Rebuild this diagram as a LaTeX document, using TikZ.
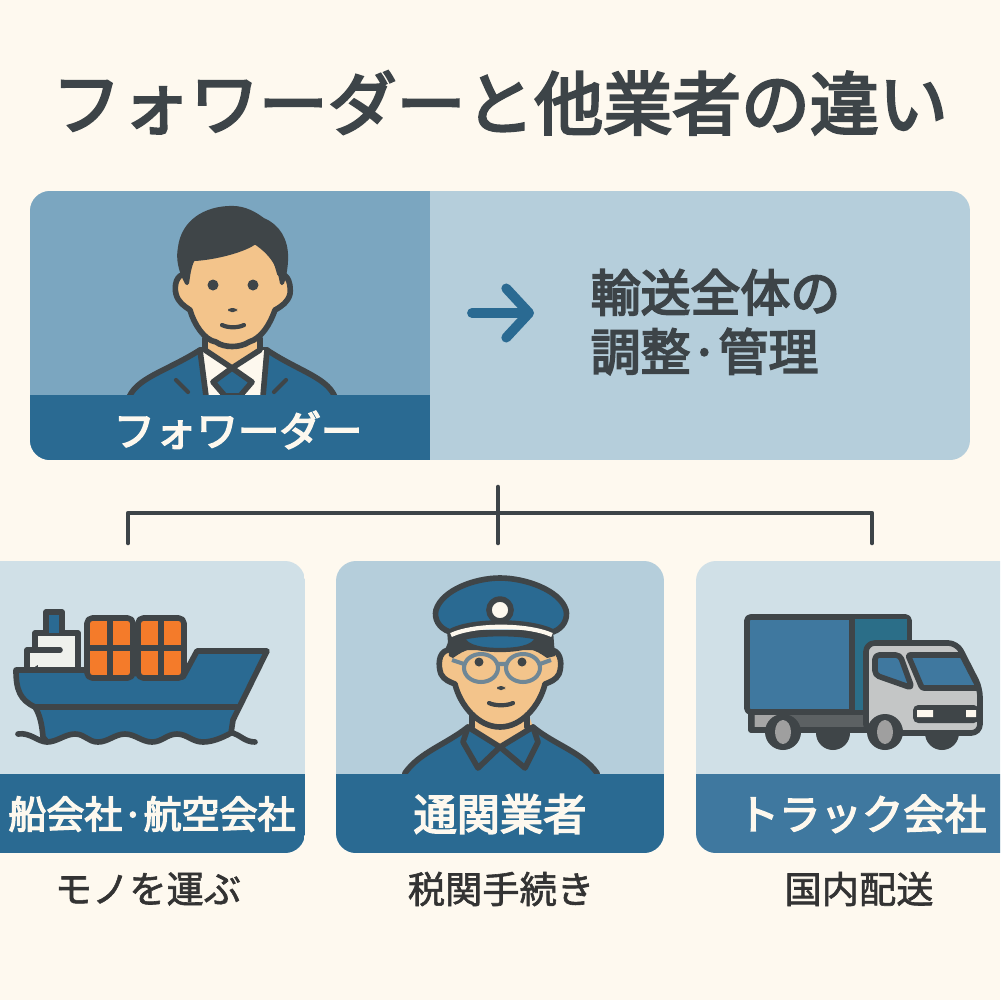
\documentclass[tikz,border=0pt]{standalone}
\usepackage{fontspec}
\usetikzlibrary{arrows.meta}
\newfontfamily\jpfont[FakeBold=3.6]{Noto Sans CJK JP}
\newfontfamily\jplight[FakeBold=1.6]{Noto Sans CJK JP}
\definecolor{paper}{HTML}{FEF9EF}
\definecolor{ink}{HTML}{3D4448}
\definecolor{dark}{HTML}{3F4548}
\definecolor{navy}{HTML}{2A6A92}
\definecolor{steel}{HTML}{3F789F}
\definecolor{midblue}{HTML}{7BA6C0}
\definecolor{pale}{HTML}{B5CEDB}
\definecolor{paler}{HTML}{D0E0E7}
\definecolor{skin}{HTML}{F3C48B}
\definecolor{cream}{HTML}{FDF8EE}
\definecolor{crate}{HTML}{F47B2A}
\definecolor{cabin}{HTML}{C4C6C6}
\definecolor{specs}{HTML}{6F8796}
\tikzset{
  outline/.style={draw=dark,line width=1.6pt,line join=round,line cap=round},
  thin outline/.style={draw=dark,line width=1.2pt,line join=round,line cap=round},
  titletext/.style={font=\jpfont\fontsize{19.6pt}{22pt}\selectfont,text=ink,inner sep=0pt},
  bodytext/.style={font=\jpfont\fontsize{14.2pt}{16.8pt}\selectfont,text=ink,inner sep=0pt,align=left},
  bandtext/.style={font=\jpfont\fontsize{11.8pt}{14pt}\selectfont,text=cream,inner sep=0pt},
  subtext/.style={font=\jplight\fontsize{10.6pt}{13pt}\selectfont,text=black!80,inner sep=0pt},
  wire/.style={draw=ink,line width=1.3pt,line cap=round,line join=round},
  pointer/.style={draw=navy,line width=2.8pt,line cap=round,-{Straight Barb[length=6.5pt,width=14pt,round]}},
  wheel/.style={fill=dark,draw=none},
  hub/.style={fill=gray!75,draw=none},
}
\begin{document}
\begin{tikzpicture}[x=0.1mm,y=-0.1mm]
  \clip (0,0) rectangle (1000,1000);
  \fill[paper] (0,0) rectangle (1000,1000);
  \node[titletext] (title) at (500,103) {フォワーダーと他業者の違い};

  \begin{scope}
    \clip[rounded corners=5.7pt] (30,191) rectangle (970,460);
    \fill[pale] (30,191) rectangle (970,460);
    \fill[midblue] (30,191) rectangle (430,460);
    \draw[outline,fill=navy] (128,400) .. controls (135,378) and (165,372) .. (200,350) -- (267,350) .. controls (300,372) and (330,378) .. (336,400) -- cycle;
    \fill[cream] (198,350) -- (267,350) -- (263,396) -- (206,396) -- cycle;
    \fill[skin] (205,330) -- (260,330) -- (260,350) -- (232,368) -- (205,350) -- cycle;
    \draw[outline] (205,338) -- (205,350) -- (232,368) -- (260,350) -- (260,338);
    \draw[outline] (200,350) -- (206,396) (267,350) -- (263,396);
    \draw[thin outline] (176,380) -- (188,392) (286,380) -- (274,392);
    \draw[outline,fill=navy] (232,368) -- (213,382) -- (225,396) -- (240,396) -- (252,382) -- cycle;
    \draw[outline,fill=skin] (186,274) .. controls (176,274) and (174,286) .. (176,294) .. controls (178,302) and (184,306) .. (190,310) .. controls (194,324) and (204,340) .. (216,342) .. controls (224,348) and (240,348) .. (249,342) .. controls (262,338) and (270,324) .. (275,310) .. controls (282,306) and (288,302) .. (290,294) .. controls (291,286) and (289,274) .. (280,274) -- (270,240) -- (195,240) -- cycle;
    \draw[thin outline,fill=dark] (187,283) .. controls (180,270) and (178,258) .. (180,248) .. controls (183,222) and (205,208) .. (232,208) .. controls (245,208) and (255,214) .. (263,220) .. controls (278,226) and (286,240) .. (286,257) .. controls (286,268) and (284,276) .. (282,283) .. controls (280,270) and (276,256) .. (255,242) .. controls (245,250) and (215,258) .. (193,259) .. controls (189,266) and (188,276) .. (187,283) -- cycle;
    \fill[dark] (213,285) circle (5.5) (253,285) circle (5.5);
    \fill[dark,rounded corners=1pt] (228,308) rectangle (237,312);
    \draw[thin outline] (222,325) .. controls (228,328) and (238,328) .. (244,325);
    \fill[navy] (30,395) rectangle (430,460);
  \end{scope}
  \node[bandtext] (fwdname) at (238,430) {フォワーダー};
  \coordinate (tail) at (472,313);
  \coordinate (head) at (534,313);
  \draw[pointer] (tail) -- (head);
  \node[bodytext,anchor=west] (role) at (590,322) {輸送全体の\\調整·管理};

  \coordinate (stem) at (498,487);
  \coordinate (joint) at (498,513);
  \coordinate (mid) at (498,543);
  \coordinate (lft) at (128,513);
  \coordinate (lftend) at (128,543);
  \coordinate (rgt) at (872,513);
  \coordinate (rgtend) at (872,543);
  \draw[wire] (stem) -- (mid);
  \draw[wire] (lftend) -- (lft) -- (rgt) -- (rgtend);

  \begin{scope}
    \clip[rounded corners=5.7pt] (-20,561) rectangle (305,853);
    \fill[paler] (-20,561) rectangle (305,853);
    \fill[navy] (-20,774) rectangle (305,853);
  \end{scope}
  \draw[outline,fill=cream!70!paler] (35,672) -- (35,633) -- (78,633) -- (78,672);
  \draw[outline,fill=cream!70!paler] (27,672) -- (27,650) -- (60,650);
  \draw[outline,fill=navy] (46,633) -- (46,612) -- (62,612) -- (62,633);
  \draw[outline,fill=navy] (16,670) -- (88,670) -- (183,677) -- (197,651) -- (267,651) -- (233,720) -- (231,733) .. controls (222,738) and (212,742) .. (203,742) .. controls (192,742) and (187,734) .. (177,734) .. controls (167,734) and (162,742) .. (152,742) .. controls (142,742) and (135,734) .. (125,734) .. controls (115,734) and (108,742) .. (98,742) .. controls (88,742) and (85,734) .. (75,734) .. controls (65,734) and (57,742) .. (47,742) -- (43,737) .. controls (42,725) and (40,715) .. (35,707) .. controls (20,700) and (16,690) .. (16,670) -- cycle;
  \draw[outline] (35,707) -- (237,707);
  \draw[outline] (18,734) .. controls (30,732) and (38,742) .. (47,742);
  \draw[outline] (233,733) .. controls (240,735) and (245,742) .. (255,742);
  \foreach \cx in {110,161}{
    \draw[outline,fill=crate,rounded corners=1.5pt] (\cx-23,618) rectangle (\cx+23,678);
    \draw[outline] (\cx,618) -- (\cx,678) (\cx-23,648) -- (\cx+23,648);
  }
  \node[bandtext,font=\jpfont\fontsize{10.8pt}{14pt}\selectfont] (shipname) at (152,814) {船会社·航空会社};
  \node[subtext] (shiprole) at (148,889) {モノを運ぶ};

  \begin{scope}
    \clip[rounded corners=5.7pt] (336,561) rectangle (664,853);
    \fill[pale] (336,561) rectangle (664,853);
    \draw[outline,fill=navy] (405,780) -- (405,773) .. controls (420,752) and (445,745) .. (468,727) -- (533,727) .. controls (555,745) and (582,752) .. (597,773) -- (597,780) -- cycle;
    \fill[skin] (472,710) -- (527,710) -- (533,727) -- (500,747) -- (468,727) -- cycle;
    \draw[outline,fill=navy] (468,727) -- (463,742) -- (478,768) -- (500,747) -- cycle;
    \draw[outline,fill=navy] (533,727) -- (538,742) -- (525,768) -- (500,747) -- cycle;
    \draw[outline] (472,710) -- (472,727) (527,710) -- (527,727);
    \draw[outline,fill=skin] (448,650) .. controls (438,652) and (438,666) .. (441,674) .. controls (444,680) and (450,682) .. (455,684) .. controls (460,705) and (478,727) .. (500,727) .. controls (522,727) and (540,705) .. (545,684) .. controls (550,682) and (556,680) .. (559,674) .. controls (562,666) and (562,652) .. (552,650) -- (548,640) -- (452,640) -- cycle;
    \fill[dark] (447,630) -- (553,630) -- (555,656) -- (547,658) .. controls (540,653) and (536,651) .. (532,650) -- (468,650) .. controls (464,651) and (460,653) .. (453,658) -- (449,656) -- cycle;
    \draw[outline,fill=navy] (450,632) .. controls (438,628) and (434,618) .. (436,610) .. controls (442,590) and (475,578) .. (500,578) .. controls (525,578) and (560,590) .. (566,610) .. controls (568,618) and (564,628) .. (553,632) .. controls (530,620) and (470,620) .. (450,632) -- cycle;
    \draw[line width=1.2pt,draw=cream] (451,635) .. controls (475,624) and (527,624) .. (552,635);
    \draw[thin outline,fill=navy] (463,638) .. controls (480,633) and (522,633) .. (537,638) .. controls (534,648) and (515,650) .. (500,650) .. controls (485,650) and (466,648) .. (463,638) -- cycle;
    \draw[outline,fill=cream] (500,610) circle (11);
    \draw[line width=1.15pt,draw=specs] (481,668) ellipse (17 and 14) (523,668) ellipse (17 and 14) (498,664) -- (506,664) (464,664) -- (452,660) (540,664) -- (551,660);
    \fill[dark] (479,662) circle (4.5) (522,662) circle (4.5);
    \fill[dark,rounded corners=1pt] (497,686) rectangle (505,690);
    \draw[thin outline] (489,703) .. controls (495,706) and (507,706) .. (513,703);
    \fill[navy] (336,774) rectangle (664,853);
  \end{scope}
  \node[bandtext,font=\jpfont\fontsize{12.3pt}{14pt}\selectfont] (customsname) at (500,814) {通関業者};
  \node[subtext] (customsrole) at (501,889) {税関手続き};

  \begin{scope}
    \clip[rounded corners=5.7pt] (696,561) rectangle (1020,853);
    \fill[paler] (696,561) rectangle (1020,853);
    \fill[steel] (696,774) rectangle (1020,853);
  \end{scope}
  \foreach \wx in {833,942}{
    \fill[wheel] (\wx,733) circle (17);
  }
  \fill[dark!85!white] (751,712) rectangle (867,730);
  \fill[gray!70] (755,714) rectangle (780,728);
  \draw[outline] (751,712) -- (751,730) -- (867,730);
  \draw[outline,fill=steel,rounded corners=1pt] (747,617) rectangle (909,712);
  \fill[steel!75!teal!90!black] (854,619) rectangle (907,710);
  \draw[outline] (852,617) -- (852,712);
  \draw[outline,fill=cabin,rounded corners=2.5pt] (866,712) -- (866,643) -- (957,643) -- (980,688) -- (980,733) -- (866,733) -- cycle;
  \draw[outline,fill=steel,rounded corners=1.2pt] (875,655) -- (900,655) -- (912,688) -- (875,675) -- cycle;
  \draw[outline,fill=steel,rounded corners=.6pt] (908,655) -- (962,655) -- (979,688) -- (922,688) -- cycle;
  \fill[dark,rounded corners=1.5pt] (913,705) rectangle (979,723);
  \fill[cream] (917,710) rectangle (933,717) (966,710) rectangle (976,717);
  \foreach \wx in {783,885}{
    \fill[wheel] (\wx,732) circle (18);
    \fill[hub] (\wx,732) ellipse (8 and 12);
  }
  \node[bandtext] (truckname) at (862,814) {トラック会社};
  \node[subtext] (truckrole) at (859,889) {国内配送};
\end{tikzpicture}
\end{document}
